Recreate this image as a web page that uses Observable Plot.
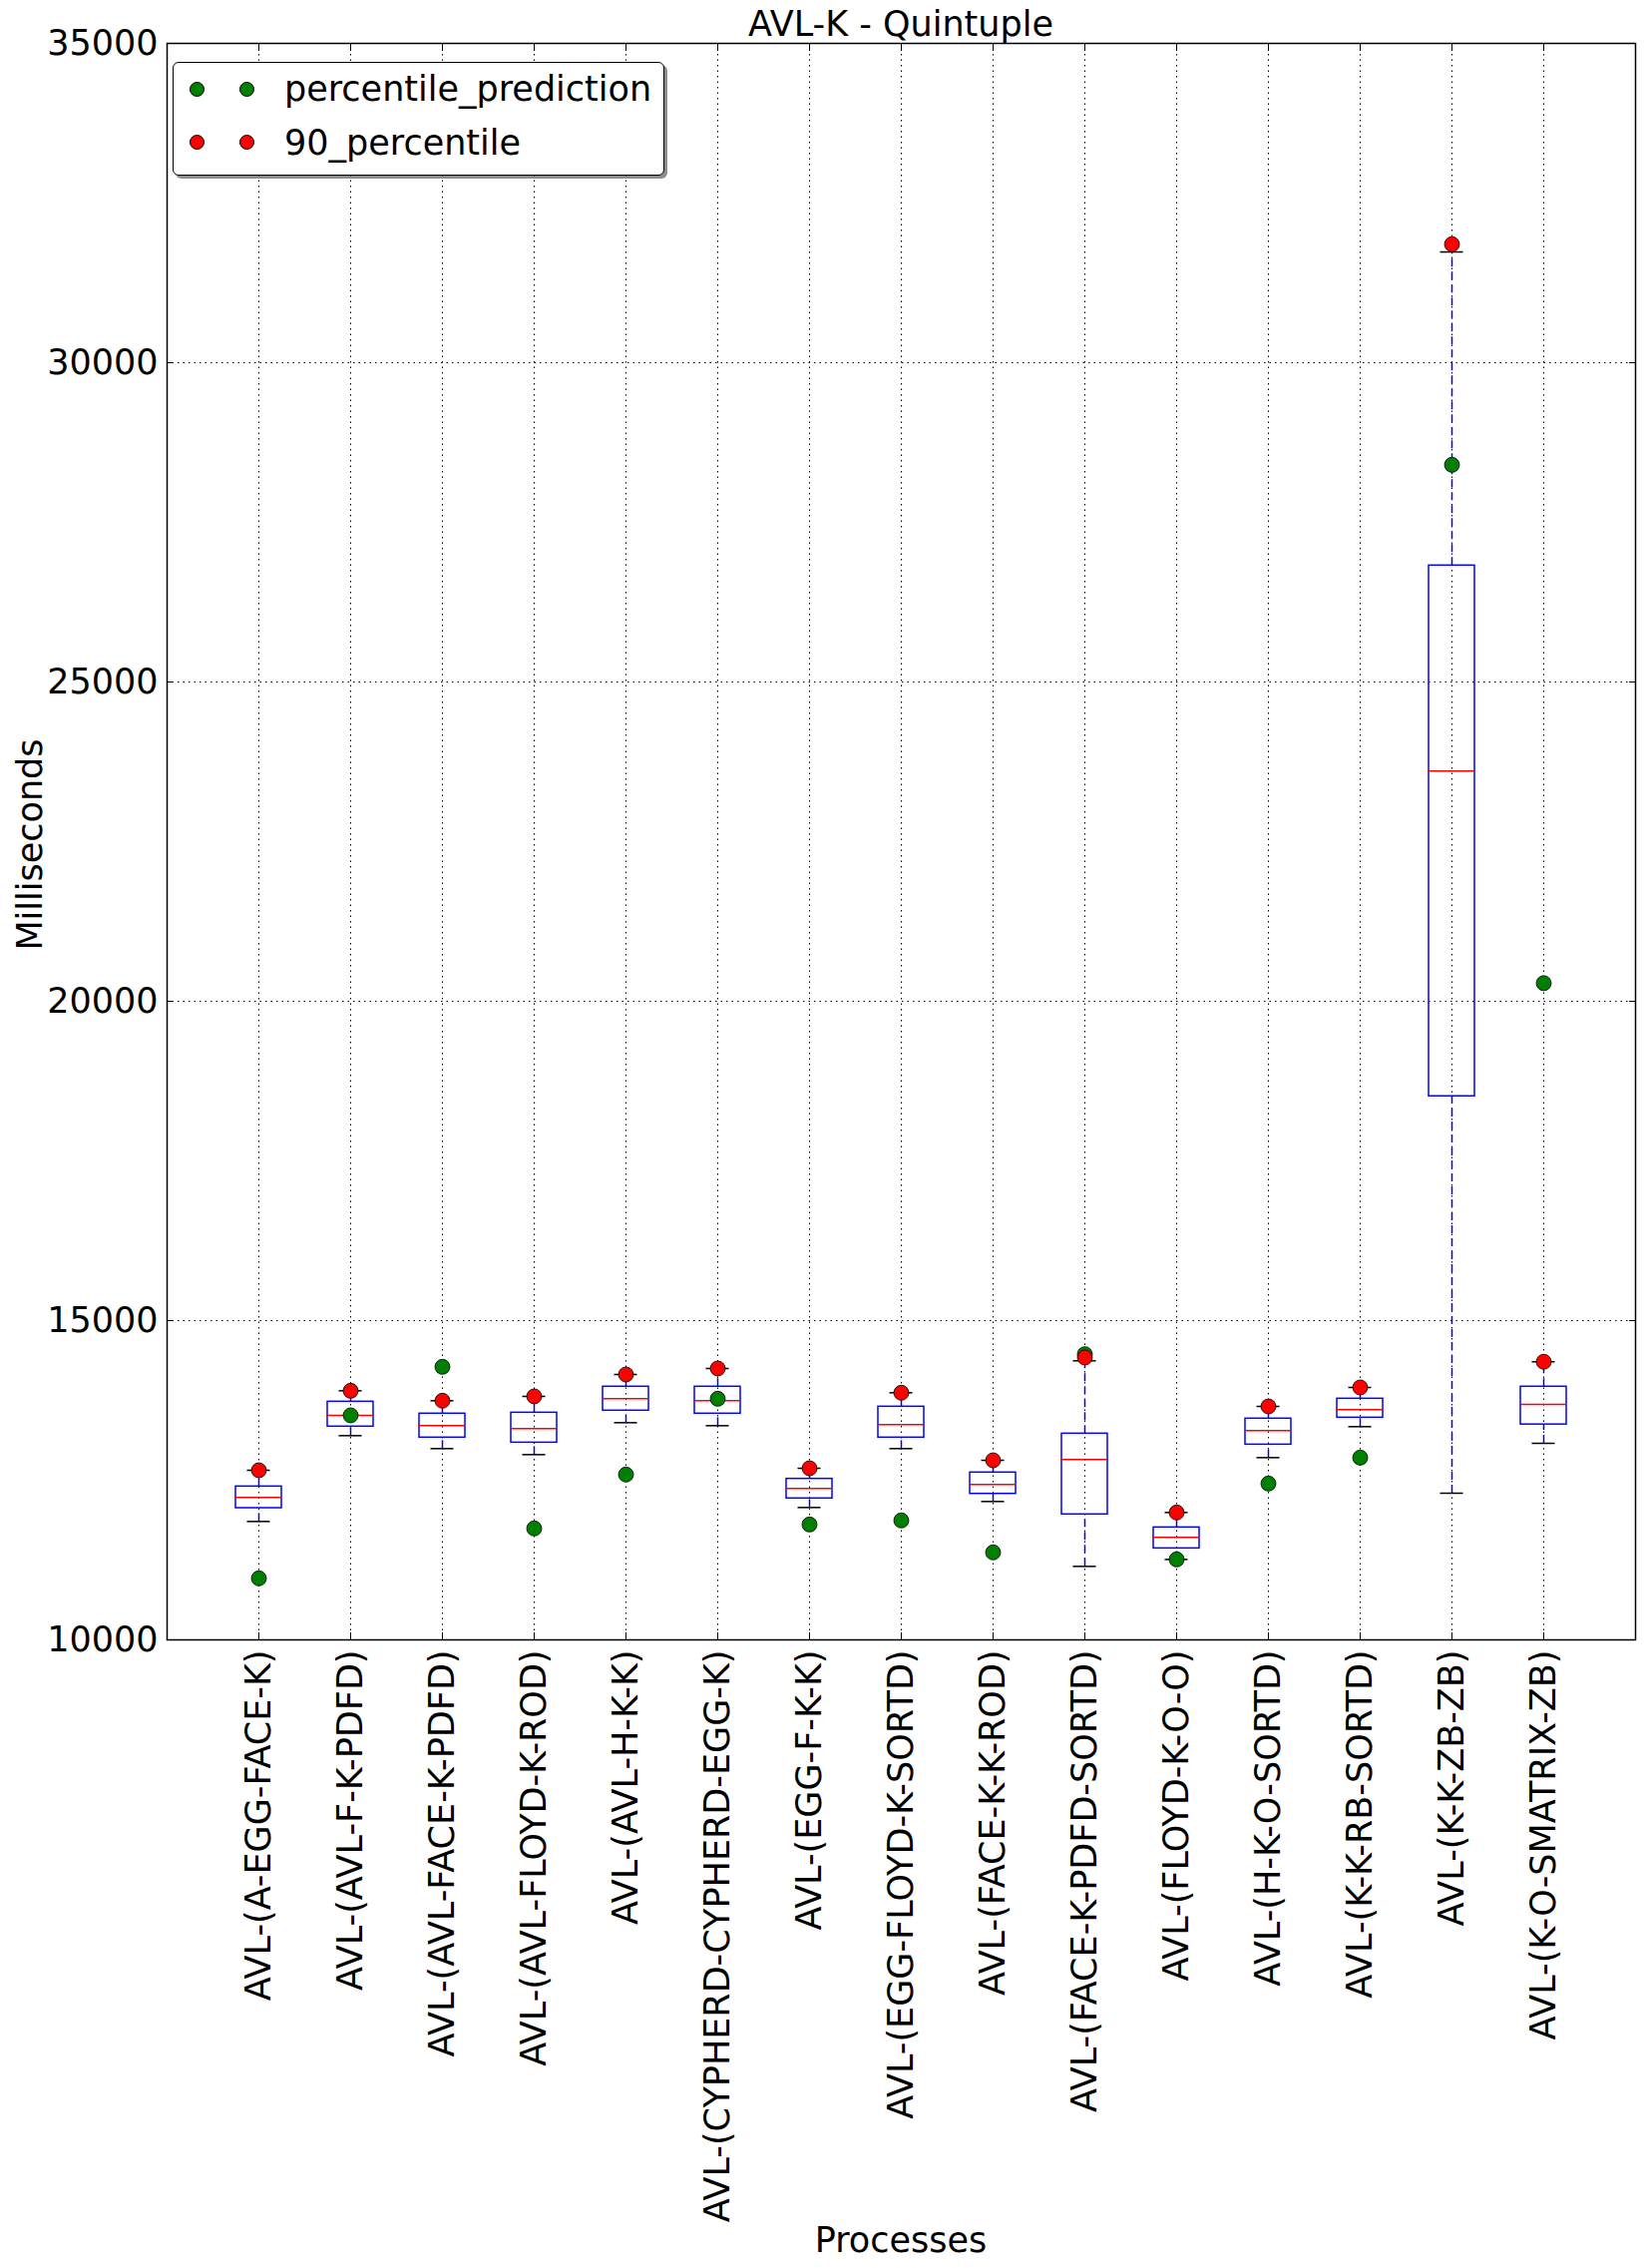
<!DOCTYPE html>
<html>
<head>
<meta charset="utf-8">
<script src="https://cdn.jsdelivr.net/npm/d3@7"></script>
<script src="https://cdn.jsdelivr.net/npm/@observablehq/plot@0.6"></script>
<style>
  body { margin: 0; background: #fff; }
  #wrap { position: relative; width: 1649px; height: 2273px; font-family: 'DejaVu Sans', sans-serif; color: #000; background: #fff; }
  #chart { position: absolute; left: 0; top: 0; }
  .lbl { position: absolute; font-size: 35px; line-height: 35px; white-space: nowrap; }
  #legend { position: absolute; left: 173px; top: 62px; width: 493px; height: 114px; box-sizing: border-box;
            border: 1.5px solid #000; border-radius: 6px; background: #fff; box-shadow: 3px 3px 0 rgba(0,0,0,0.45); }
  .mk { position: absolute; width: 15px; height: 15px; border-radius: 50%; border: 1px solid #000; box-sizing: border-box; }
</style>
</head>
<body>
<div id="wrap">
  <div id="chart"></div>
  <div class="lbl" id="title" style="left:167px; top:7px; width:1472px; text-align:center;">AVL-K - Quintuple</div>
  <div class="lbl" id="xlabel" style="left:167px; top:2228px; width:1472px; text-align:center;">Processes</div>
  <div class="lbl" id="ylabel" style="left:-170px; top:829px; width:400px; text-align:center; transform: rotate(-90deg);">Milliseconds</div>
  <div id="legend"></div>
</div>
<script>
const categories = [
  "AVL-(A-EGG-FACE-K)",
  "AVL-(AVL-F-K-PDFD)",
  "AVL-(AVL-FACE-K-PDFD)",
  "AVL-(AVL-FLOYD-K-ROD)",
  "AVL-(AVL-H-K-K)",
  "AVL-(CYPHERD-CYPHERD-EGG-K)",
  "AVL-(EGG-F-K-K)",
  "AVL-(EGG-FLOYD-K-SORTD)",
  "AVL-(FACE-K-K-ROD)",
  "AVL-(FACE-K-PDFD-SORTD)",
  "AVL-(FLOYD-K-O-O)",
  "AVL-(H-K-O-SORTD)",
  "AVL-(K-K-RB-SORTD)",
  "AVL-(K-K-ZB-ZB)",
  "AVL-(K-O-SMATRIX-ZB)"
];
const whiskerLow  = [11854, 13198, 12995, 12901, 13401, 13354, 12073, 12995, 12167, 11151, 11260, 12854, 13339, 12297, 13078];
const quartile1   = [12062, 13339, 13167, 13088, 13589, 13542, 12214, 13167, 12286, 11964, 11432, 13057, 13479, 18512, 13372];
const medians     = [12229, 13516, 13354, 13307, 13776, 13745, 12370, 13370, 12432, 12823, 11604, 13276, 13604, 23604, 13686];
const quartile3   = [12401, 13729, 13542, 13557, 13964, 13964, 12521, 13651, 12620, 13229, 11760, 13464, 13776, 26823, 13964];
const whiskerHigh = [12656, 13901, 13745, 13813, 14156, 14250, 12687, 13870, 12812, 14370, 11995, 13656, 13953, 31734, 14355];
const percentilePrediction = [10964, 13516, 14276, 11745, 12589, 13776, 11807, 11870, 11370, 14474, 11260, 12448, 12854, 28401, 20284];
const percentile90         = [12656, 13901, 13745, 13813, 14156, 14250, 12687, 13870, 12812, 14422, 11995, 13656, 13953, 31855, 14355];
const yTicks = [10000, 15000, 20000, 25000, 30000, 35000];
const yDomain = [10000, 35000];

const rows = categories.map((c, i) => ({
  cat: c, low: whiskerLow[i], q1: quartile1[i], med: medians[i], q3: quartile3[i],
  high: whiskerHigh[i], pred: percentilePrediction[i], p90: percentile90[i]
}));

const dotted = {stroke: "black", strokeOpacity: 1, strokeWidth: 1, strokeDasharray: "1.5,4"};
const whisk = {stroke: "blue", strokeWidth: 1.5, strokeDasharray: "8,5"};

const chart = Plot.plot({
  width: 1649,
  height: 2273,
  marginLeft: 167,
  marginRight: 10,
  marginTop: 43,
  marginBottom: 630,
  style: {fontFamily: "'DejaVu Sans', sans-serif", fontSize: "35px", background: "white", color: "black", overflow: "visible"},
  x: {type: "band", domain: categories, paddingInner: 0.5, paddingOuter: 0.75},
  y: {domain: yDomain},
  marks: [
    Plot.gridY(yTicks, dotted),
    Plot.gridX(categories, dotted),
    Plot.ruleX(rows, {x: "cat", y1: "low", y2: "q1", ...whisk}),
    Plot.ruleX(rows, {x: "cat", y1: "q3", y2: "high", ...whisk}),
    Plot.barY(rows, {x: "cat", y1: "q1", y2: "q3", fill: "none", stroke: "blue", strokeWidth: 1.5}),
    Plot.tickY(rows, {x: "cat", y: "med", stroke: "red", strokeWidth: 1.5}),
    Plot.tickY(rows, {x: "cat", y: "low", stroke: "black", strokeWidth: 1.5, insetLeft: 11.5, insetRight: 11.5}),
    Plot.tickY(rows, {x: "cat", y: "high", stroke: "black", strokeWidth: 1.5, insetLeft: 11.5, insetRight: 11.5}),
    Plot.dot(rows, {x: "cat", y: "pred", r: 7.5, fill: "#008000", stroke: "black", strokeWidth: 0.8}),
    Plot.dot(rows, {x: "cat", y: "p90", r: 7.5, fill: "#ff0000", stroke: "black", strokeWidth: 0.8}),
    Plot.frame({stroke: "black", strokeWidth: 1.5}),
    // tick labels
    Plot.axisY(yTicks, {anchor: "left", tickSize: 0, tickPadding: 9, tickFormat: d => String(d), label: null, fontSize: 35}),
    Plot.axisX(categories, {anchor: "bottom", tickSize: 0, tickPadding: 10, tickRotate: -90, label: null, fontSize: 35}),
    // inward tick marks on all four sides
    Plot.axisY(yTicks, {anchor: "left", tickSize: 7, dx: 7, fill: "none", tickFormat: () => "", label: null}),
    Plot.axisY(yTicks, {anchor: "right", tickSize: 7, dx: -7, fill: "none", tickFormat: () => "", label: null}),
    Plot.axisX(categories, {anchor: "bottom", tickSize: 7, dy: -7, fill: "none", tickFormat: () => "", label: null}),
    Plot.axisX(categories, {anchor: "top", tickSize: 7, dy: 7, fill: "none", tickFormat: () => "", label: null})
  ]
});
document.getElementById("chart").appendChild(chart);

// legend (HTML overlay)
const legendItems = [
  {label: "percentile_prediction", color: "#008000"},
  {label: "90_percentile", color: "#ff0000"}
];
const legend = document.getElementById("legend");
legendItems.forEach((item, i) => {
  const cy = 26 + i * 53.5;
  [23, 73].forEach(cx => {
    const m = document.createElement("div");
    m.className = "mk";
    m.style.background = item.color;
    m.style.left = (cx - 7.5) + "px";
    m.style.top = (cy - 7.5) + "px";
    legend.appendChild(m);
  });
  const t = document.createElement("div");
  t.className = "lbl";
  t.style.left = "111px";
  t.style.top = (cy - 17) + "px";
  t.textContent = item.label;
  legend.appendChild(t);
});
</script>
</body>
</html>
